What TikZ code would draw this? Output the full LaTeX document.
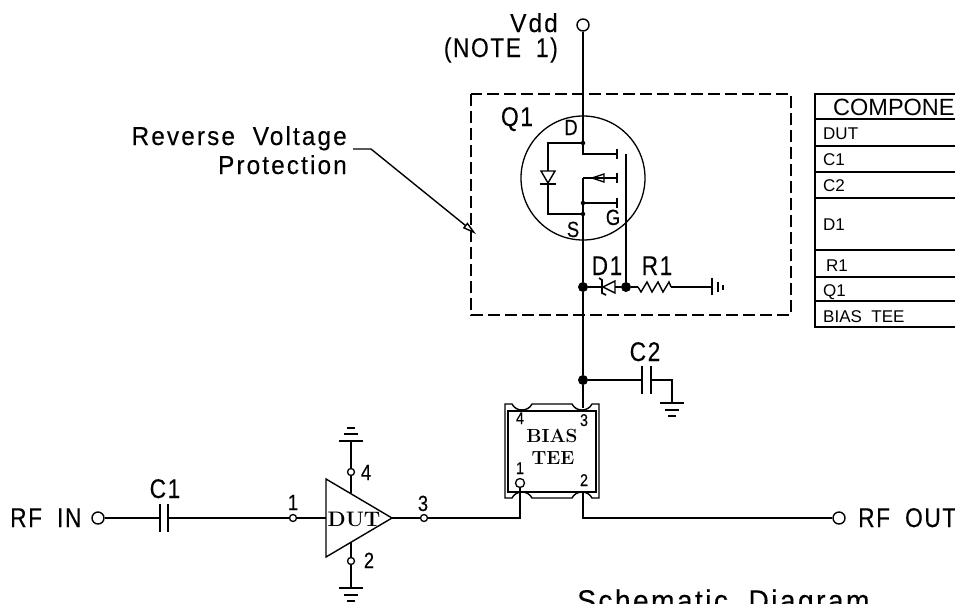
\documentclass[tikz,border=0pt]{standalone}
\usepackage{fontspec}
\usepackage{tikz}
\usetikzlibrary{calc,arrows.meta}
\newfontfamily\cadfont[LetterSpace=8,WordSpace=2,FakeStretch=.94,FakeBold=.2]{Liberation Sans}
\newfontfamily\capfont[LetterSpace=6,WordSpace=1.9,FakeStretch=.84,FakeBold=.2]{Liberation Sans}
\newfontfamily\cellfont[WordSpace=2]{Liberation Sans}
\tikzset{
  wire/.style={line width=1.7pt},
  thinwire/.style={line width=1.4pt},
  cadlabel/.style={font=\cadfont\fontsize{26}{26}\selectfont, inner sep=0pt},
  caplabel/.style={font=\capfont\fontsize{27}{27}\selectfont, inner sep=0pt},
  pinlabel/.style={font=\capfont\fontsize{22}{22}\selectfont, inner sep=0pt, anchor=base},
  teepin/.style={font=\capfont\fontsize{17}{17}\selectfont, inner sep=0pt, anchor=base},
  celltext/.style={font=\cellfont\fontsize{17}{17}\selectfont, inner sep=0pt, anchor=base west},
  serifbold/.style={font=\bfseries\fontsize{19}{19}\selectfont, inner sep=0pt, anchor=base},
  term/.style={circle, draw, line width=1.4pt, fill=white, inner sep=0pt, minimum size=12pt},
  pinterm/.style={circle, draw, line width=1.3pt, fill=white, inner sep=0pt, minimum size=7pt},
  jdot/.style={circle, fill=black, inner sep=0pt, minimum size=10pt},
  smalldot/.style={circle, fill=black, inner sep=0pt, minimum size=4.5pt},
  gndbars/.pic={
    \draw[wire] (-12,0) -- (12,0);
    \draw[wire] (-7,7) -- (7,7);
    \draw[wire] (-4,13) -- (4,13);
  }
}
\begin{document}
\begin{tikzpicture}[x=1pt,y=-1pt]
  \useasboundingbox (0,0) rectangle (955,603);
  % protection box and leader
  \draw[line width=1.3pt, dash pattern=on 12pt off 5pt] (471,94) rectangle (791,315);
  \node[cadlabel, anchor=base east] (revlabel) at (347,145) {Reverse Voltage};
  \node[cadlabel, anchor=base east] (protlabel) at (347,174) {Protection};
  \coordinate (leadstart) at (353,149);
  \coordinate (leadbend) at (371,149);
  \coordinate (leadtip) at (476,234);
  \draw[thinwire, -{Triangle[open, fill=white, length=14pt, width=7pt]}] (leadstart) -- (leadbend) -- (leadtip);
  % supply and drain side
  \node[term] (vdd) at (583,25) {};
  \node[cadlabel, anchor=base east] (vddlabel) at (558,32) {Vdd};
  \node[caplabel, anchor=base east] (notelabel) at (558,57) {(NOTE 1)};
  \coordinate (dbend) at (583,154);
  \coordinate (dplate) at (617,154);
  \draw[wire] (vdd) -- (dbend) -- (dplate);
  % transistor
  \node[circle, draw, line width=1.3pt, inner sep=0pt, minimum size=124pt] (qring) at (583,178) {};
  \node[caplabel, anchor=base] (qlabel) at (517,126) {Q1};
  \node[pinlabel] (dlabel) at (571,135) {D};
  \node[pinlabel] (glabel) at (613,225) {G};
  \node[pinlabel] (slabel) at (573,237) {S};
  \node[smalldot] (dtap) at (583,143) {};
  \node[smalldot] (btap) at (583,203) {};
  \node[smalldot] (stap) at (583,214) {};
  \coordinate (chtop) at (583,178);
  \coordinate (chplate) at (617,178);
  \coordinate (bplate) at (617,203);
  \coordinate (bodyl) at (548,143);
  \coordinate (bodyr) at (548,214);
  \draw[thinwire] (dtap) -- (bodyl) -- (bodyr) -- (stap);
  \draw[thinwire] (btap) -- (bplate);
  \draw[thinwire] (chtop) -- (chplate);
  \draw[thinwire, fill=white] (548,183) -- (541,171) -- (555,171) -- cycle;
  \draw[wire] (540,184) -- (556,184);
  \draw[thinwire] (592,178) -- (604,174) -- (604,182) -- cycle;
  \draw[wire] (dplate) ++(0,-5) -- ++(0,10);
  \draw[wire] (chplate) ++(0,-5) -- ++(0,10);
  \draw[wire] (bplate) ++(0,-5) -- ++(0,10);
  % source line, zener and resistor
  \node[jdot] (sjunc) at (583,287) {};
  \node[jdot] (gjunc) at (626,287) {};
  \node[jdot] (cjunc) at (583,380) {};
  \coordinate (gtop) at (626,154);
  \coordinate (pin3) at (583,408);
  \draw[wire] (chtop) -- (sjunc) -- (cjunc) -- (pin3);
  \draw[wire] (gtop) -- (gjunc);
  \coordinate (rstart) at (638,287);
  \coordinate (rend) at (671,287);
  \coordinate (gndr) at (712,287);
  \draw[wire] (sjunc) -- (603,287);
  \draw[wire] (615,287) -- (gjunc) -- (rstart);
  \draw[thinwire] (615,281) -- (603,287) -- (615,293) -- cycle;
  \draw[wire] (599,278) -- (602,280) -- (602,293) -- (606,295);
  \draw[thinwire] (rstart) -- (641,292) -- (647,282) -- (652,292) -- (658,282) -- (663,292) -- (669,282) -- (rend);
  \draw[wire] (rend) -- (gndr);
  \draw[wire] (712,278) -- (712,295);
  \draw[wire] (718,282) -- (718,292);
  \draw[wire] (723,285) -- (723,290);
  \node[caplabel, anchor=base] (d1label) at (607,275) {D1};
  \node[caplabel, anchor=base] (r1label) at (657,275) {R1};
  % C2
  \coordinate (c2a) at (642,380);
  \coordinate (c2b) at (651,380);
  \coordinate (c2c) at (672,380);
  \coordinate (c2gnd) at (672,403);
  \draw[wire] (cjunc) -- (c2a);
  \draw[wire] (c2b) -- (c2c) -- (c2gnd);
  \draw[wire] (642,366) -- (642,394);
  \draw[wire] (651,366) -- (651,394);
  \pic at (c2gnd) {gndbars};
  \node[caplabel, anchor=base] (c2label) at (645,361) {C2};
  % bias tee
  \draw[thinwire, fill=white] (505,498) -- (505,404) -- (512,404) .. controls (516,412) and (528,412) .. (532,404) -- (572,404) .. controls (576,412) and (588,412) .. (592,404) -- (599,404) -- (599,498) -- (592,498) .. controls (588,490) and (576,490) .. (572,498) -- (532,498) .. controls (528,490) and (516,490) .. (512,498) -- cycle;
  \draw[thinwire] (508,411) rectangle (596,492);
  \node[serifbold] (biaslabel) at (552,442) {BIAS};
  \node[serifbold] (teelabel) at (553,464) {TEE};
  \node[teepin] (p4label) at (520,424) {4};
  \node[teepin] (p3label) at (584,426) {3};
  \node[teepin] (p1label) at (520,474) {1};
  \node[teepin] (p2label) at (584,486) {2};
  \node[pinterm, minimum size=9pt] (pin1) at (520,483) {};
  % RF path
  \node[term] (rfin) at (98,518) {};
  \node[term] (rfout) at (839,518) {};
  \node[caplabel, anchor=base west] (rfinlabel) at (10,527) {RF IN};
  \node[caplabel, anchor=base west] (rfoutlabel) at (858,527) {RF OUT};
  \coordinate (c1a) at (160,518);
  \coordinate (c1b) at (168,518);
  \draw[wire] (rfin) -- (c1a);
  \draw[wire] (160,504) -- (160,532);
  \draw[wire] (168,504) -- (168,532);
  \node[caplabel, anchor=base] (c1label) at (165,498) {C1};
  \node[pinterm] (dutin) at (293,518) {};
  \node[pinterm] (dutout) at (424,518) {};
  \node[pinterm] (duttop) at (351,472) {};
  \node[pinterm] (dutbot) at (351,561) {};
  \coordinate (ampin) at (326,518);
  \coordinate (ampout) at (392,518);
  \coordinate (amptop) at (351,493);
  \coordinate (ampbot) at (351,542);
  \draw[wire] (c1b) -- (dutin) -- (ampin);
  \draw[wire] (ampout) -- (dutout) -- (520,518) -- (pin1);
  \draw[wire] (rfout) -- (583,518) -- (583,493);
  \draw[thinwire] (326,479) -- (392,518) -- (326,557) -- cycle;
  \node[inner sep=0pt, anchor=base, font=\bfseries\fontsize{21}{21}\selectfont] (dutlabel) at (354,526) {DUT};
  \coordinate (gndtop) at (351,441);
  \coordinate (gndbot) at (351,588);
  \draw[wire] (amptop) -- (duttop) -- (gndtop);
  \draw[wire] (ampbot) -- (dutbot) -- (gndbot);
  \pic[yscale=-1] at (gndtop) {gndbars};
  \pic at (gndbot) {gndbars};
  \node[pinlabel] (l1label) at (293,510) {1};
  \node[pinlabel] (l3label) at (423,511) {3};
  \node[pinlabel] (l4label) at (366,480) {4};
  \node[pinlabel] (l2label) at (369,568) {2};
  % components table
  \draw[thinwire] (955,94) -- (815,94) -- (815,327) -- (955,327);
  \foreach \rowy in {119,146,172,198,250,277,301}
    \draw[thinwire] (815,\rowy) -- (955,\rowy);
  \node[celltext, font=\cellfont\fontsize{23.5}{24}\selectfont] (headcell) at (833,115) {COMPONE};
  \node[celltext] (dutcell) at (823,139) {DUT};
  \node[celltext] (c1cell) at (823,165) {C1};
  \node[celltext] (c2cell) at (823,191) {C2};
  \node[celltext] (d1cell) at (823,230) {D1};
  \node[celltext] (r1cell) at (826,271) {R1};
  \node[celltext] (q1cell) at (823,296) {Q1};
  \node[celltext] (teecell) at (823,322) {BIAS TEE};
  % caption
  \node[cadlabel, anchor=base west, font=\cadfont\fontsize{30}{30}\selectfont] (caption) at (577,611) {Schematic Diagram};
\end{tikzpicture}
\end{document}
